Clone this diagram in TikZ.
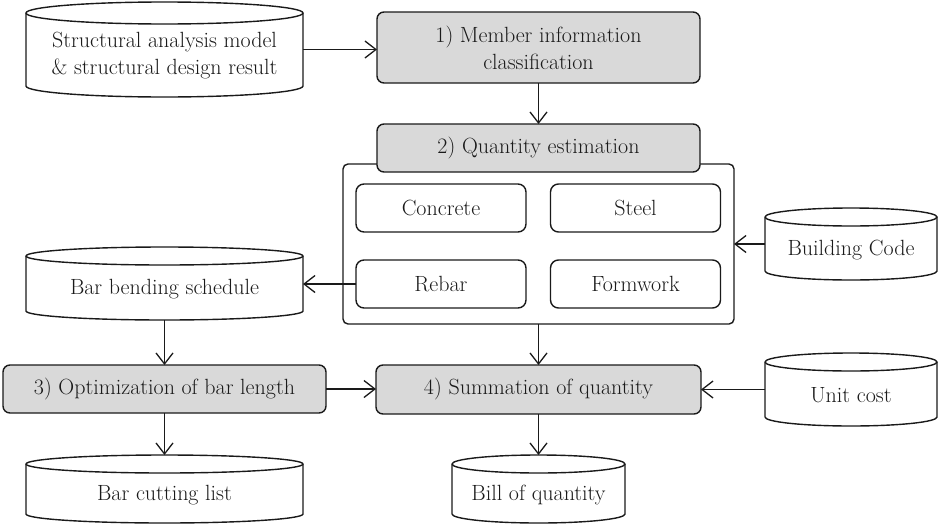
\documentclass[tikz,border=0pt]{standalone}
\usetikzlibrary{arrows.meta}
\definecolor{boxgray}{HTML}{D9D9D9}
\definecolor{ink}{HTML}{1A1A1A}
\tikzset{
  line/.style={draw=ink, line width=1.4pt},
  conn/.style={draw=ink, line width=1.3pt, -{Straight Barb[length=11pt,width=17pt]}},
  txt/.style={font=\rmfamily\fontsize{22}{27}\selectfont, align=center, text=ink},
  proc/.style={line, txt, fill=boxgray, rounded corners=7pt, inner sep=0pt, outer sep=0pt},
  item/.style={line, txt, rounded corners=8pt, inner sep=0pt, outer sep=0pt, minimum width=170pt, minimum height=48pt},
  frame/.style={line, rounded corners=5pt, inner sep=0pt, outer sep=0pt},
  cylbox/.style={inner sep=0pt, outer sep=0pt},
  cyltext/.style={txt, inner sep=0pt},
}
% \cyl{name}{x1}{y1}{x2}{y2}{ry}{text}
\newcommand\cyl[7]{%
  \node[cylbox, minimum width={(#4-#2)*1pt}, minimum height={(#5-#3)*1pt}] (#1) at ({(#2+#4)/2},{(#3+#5)/2}) {};
  \draw[line, fill=white] ([yshift=-#6pt]#1.north east) arc[start angle=0,end angle=180,x radius={(#4-#2)/2*1pt},y radius=#6pt]
     -- ([yshift=#6pt]#1.south west) arc[start angle=180,end angle=360,x radius={(#4-#2)/2*1pt},y radius=#6pt] -- cycle;
  \draw[line] ([yshift=-#6pt]#1.north west) arc[start angle=180,end angle=360,x radius={(#4-#2)/2*1pt},y radius=#6pt];
  \node[cyltext] (#1-t) at ([yshift=-6pt]#1.center) {#7};
}
\begin{document}
\begin{tikzpicture}[x=1pt,y=-1pt]
\useasboundingbox (0,0) rectangle (939,525);

% cylinders
\cyl{struct}{26}{2}{303}{97}{11}{Structural analysis model\\\& structural design result}
\cyl{barbend}{26}{247}{303}{320}{9}{Bar bending schedule}
\cyl{bcode}{765}{208}{937}{280}{9}{Building Code}
\cyl{unit}{765}{353}{937}{426}{9}{Unit cost}
\cyl{barcut}{26}{455}{303}{523}{9}{Bar cutting list}
\cyl{bill}{452}{455}{625}{523}{9}{Bill of quantity}

% process boxes
\node[proc, minimum width=323pt, minimum height=71pt] (p1) at (538.5,47.5) {1) Member information\\classification};
\node[frame, minimum width=391pt, minimum height=160pt] (cont) at (538.5,244) {};
\node[proc, minimum width=323pt, minimum height=48pt] (p2) at (538.5,148) {2) Quantity estimation};
\node[item] (conc) at (441,208) {Concrete};
\node[item] (steel) at (635.5,208) {Steel};
\node[item] (rebar) at (441,284) {Rebar};
\node[item] (form) at (635.5,284) {Formwork};
\node[proc, minimum width=323pt, minimum height=48pt] (p3) at (164.5,389) {3) Optimization of bar length};
\node[proc, minimum width=325pt, minimum height=49pt] (p4) at (538.5,389.5) {4) Summation of quantity};

% connectors
\draw[conn] (struct.east) -- (struct.east -| p1.west);
\draw[conn] (p1.south) -- (p2.north);
\draw[conn] (bcode.west) -- (bcode.west -| cont.east);
\draw[conn] (rebar.west) -- (rebar.west -| barbend.east);
\draw[conn] (barbend.south) -- (barbend.south |- p3.north);
\draw[conn] (cont.south) -- (p4.north);
\draw[conn] (p3.east) -- (p3.east -| p4.west);
\draw[conn] (unit.west) -- (unit.west -| p4.east);
\draw[conn] (p3.south) -- (p3.south |- barcut.north);
\draw[conn] (p4.south) -- (p4.south |- bill.north);
\end{tikzpicture}
\end{document}
